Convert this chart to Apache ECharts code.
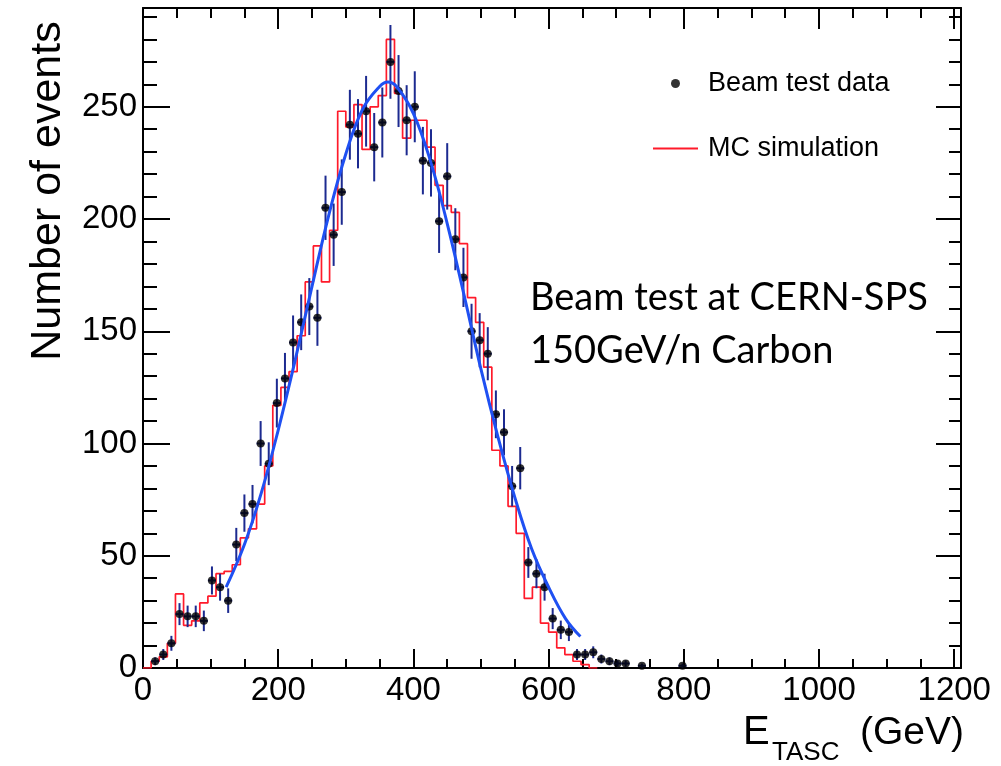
<!DOCTYPE html>
<html>
<head>
<meta charset="utf-8">
<script src="https://cdn.jsdelivr.net/npm/echarts@6/dist/echarts.min.js"></script>
<style>
html,body{margin:0;padding:0;background:#fff;}
#chart{width:1001px;height:766px;}
</style>
</head>
<body>
<div id="chart"></div>
<script>
// ---- data ----
const binWidth = 12; // GeV per bin, bins start at 0
const dataCounts = [null,3,6,11,24,23,23,21,39,36,30,55,69,73,100,91,118,129,145,154,161,156,205,193,212,242,238,248,232,243,270,257,244,250,226,225,199,219,191,174,150,146,140,113,105,81,89,47,42,36,22,17,16,6,6,7,4,3,2,2,null,1,null,null,null,null,1];
const mcCounts = [0,3,5,11,33,19,21,29,32,42,43,46,58,62,73,90,117,125,132,148,172,188,172,195,248,241,251,231,250,255,280,256,236,244,244,232,215,206,203,189,165,154,134,97,90,72,60,31,36,20,16,9,6,3,1.5,0];
const fitE = [123,150,175,200,225,250,275,300,325,350,362,375,400,425,450,475,500,525,550,575,600,625,647];
const fitCounts = [36,55,78,106,137,170,202,229,249,259,261,259,247,226,198,166,133,103,76,53,36,22,14];
const legendNames = ['Beam test data', 'MC simulation'];
const yTitle = 'Number of events';
const annotationLines = ['Beam test at CERN-SPS', '150GeV/n Carbon'];

// ---- build series data ----
const pointData = [];
dataCounts.forEach((v, k) => {
  if (v !== null) pointData.push([(k + 0.5) * binWidth, v, Math.sqrt(v)]);
});
const mcData = mcCounts.map((v, k) => [k * binWidth, v]);
mcData.push([mcCounts.length * binWidth, 0]);
const fitData = fitE.map((e, i) => [e, fitCounts[i]]);

const FONT = '"Liberation Sans", Arial, Helvetica, sans-serif';
const chart = echarts.init(document.getElementById('chart'), null, {renderer: 'canvas'});

const axisLineStyle = {color: '#000', width: 2};
const plainNum = v => String(v);
function xAx(pos, showLabel, majorLen, minorLen) {
  return {
    type: 'value', position: pos, min: 0, max: 1210, interval: 200,
    axisLine: {show: true, onZero: false, lineStyle: axisLineStyle},
    axisTick: {show: true, inside: true, length: majorLen, lineStyle: {color: '#000', width: 2}},
    minorTick: {show: true, splitNumber: 4, length: minorLen, lineStyle: {color: '#000', width: 2}},
    axisLabel: {show: showLabel, color: '#000', fontSize: 33, fontFamily: FONT, margin: 6, showMaxLabel: false, formatter: plainNum},
    splitLine: {show: false}, minorSplitLine: {show: false}
  };
}
function yAx(pos, showLabel, majorLen, minorLen) {
  return {
    type: 'value', position: pos, min: 0, max: 294, interval: 50,
    axisLine: {show: true, onZero: false, lineStyle: axisLineStyle},
    axisTick: {show: true, inside: true, length: majorLen, lineStyle: {color: '#000', width: 2}},
    minorTick: {show: true, splitNumber: 5, length: minorLen, lineStyle: {color: '#000', width: 2}},
    axisLabel: {show: showLabel, color: '#000', fontSize: 33, fontFamily: FONT, margin: 6, showMaxLabel: false, formatter: plainNum},
    splitLine: {show: false}, minorSplitLine: {show: false}
  };
}

const errColor = '#1c2a90';
const mcColor = '#ff1a2a';

chart.setOption({
  animation: false,
  backgroundColor: '#fff',
  grid: {left: 143, top: 8, width: 818, height: 660, containLabel: false},
  xAxis: [xAx('bottom', true, 19, 9), xAx('top', false, 21, 10)],
  yAxis: [yAx('left', true, 27, 14), yAx('right', false, 25, 12)],
  legend: {
    orient: 'vertical', left: 652, top: 70, padding: 0, itemWidth: 45, itemHeight: 9, itemGap: 38,
    textStyle: {fontSize: 27, fontFamily: FONT, color: '#000', padding: [0, 0, 0, 5]},
    data: [
      {name: legendNames[0], icon: 'circle'},
      {name: legendNames[1], itemStyle: {color: 'rgba(0,0,0,0)', borderWidth: 0, opacity: 0}}
    ]
  },
  series: [
    {
      name: legendNames[1], type: 'line', step: 'end', data: mcData,
      symbol: 'none', lineStyle: {color: mcColor, width: 1.7}, itemStyle: {color: mcColor}, z: 2
    },
    {
      name: 'errors', type: 'custom', data: pointData, encode: {x: 0, y: 1}, z: 3,
      renderItem: function (params, api) {
        const x = api.value(0), y = api.value(1), e = api.value(2);
        const top = api.coord([x, y + e]);
        const bot = api.coord([x, Math.max(0, y - e)]);
        const l = api.coord([x - binWidth / 2, y]);
        const r = api.coord([x + binWidth / 2, y]);
        return {type: 'group', children: [
          {type: 'line', shape: {x1: top[0], y1: top[1], x2: bot[0], y2: bot[1]}, style: {stroke: errColor, lineWidth: 2}},
          {type: 'line', shape: {x1: l[0], y1: l[1], x2: r[0], y2: r[1]}, style: {stroke: errColor, lineWidth: 2}}
        ]};
      }
    },
    {
      name: legendNames[0], type: 'scatter', data: pointData.map(p => [p[0], p[1]]),
      symbol: 'circle', symbolSize: 8, itemStyle: {color: '#000'}, z: 4
    },
    {
      name: 'fit', type: 'line', data: fitData, smooth: 0.4, symbol: 'none',
      lineStyle: {color: '#1f50f2', width: 3}, z: 5
    }
  ],
  graphic: [
    {type: 'text', x: 48, y: 191, rotation: Math.PI / 2,
     style: {text: yTitle, font: '43px ' + FONT, fill: '#000', align: 'center', verticalAlign: 'middle', textAlign: 'center', textVerticalAlign: 'middle'}},
    {type: 'text', x: 743, y: 733,
     style: {text: 'E', font: '40px ' + FONT, fill: '#000', align: 'left', verticalAlign: 'middle', textAlign: 'left', textVerticalAlign: 'middle'}},
    {type: 'text', x: 772, y: 753,
     style: {text: 'TASC', font: '26px ' + FONT, fill: '#000', align: 'left', verticalAlign: 'middle', textAlign: 'left', textVerticalAlign: 'middle'}},
    {type: 'text', x: 860, y: 733,
     style: {text: '(GeV)', font: '39px ' + FONT, fill: '#000', align: 'left', verticalAlign: 'middle', textAlign: 'left', textVerticalAlign: 'middle'}},
    {type: 'text', x: 530, y: 298,
     style: {text: annotationLines[0], font: '38px Lato, "Open Sans", sans-serif', fill: '#000', align: 'left', verticalAlign: 'middle', textAlign: 'left', textVerticalAlign: 'middle'}},
    {type: 'text', x: 530, y: 351,
     style: {text: annotationLines[1], font: '38px Lato, "Open Sans", sans-serif', fill: '#000', align: 'left', verticalAlign: 'middle', textAlign: 'left', textVerticalAlign: 'middle'}}
  ]
});
</script>
</body>
</html>
